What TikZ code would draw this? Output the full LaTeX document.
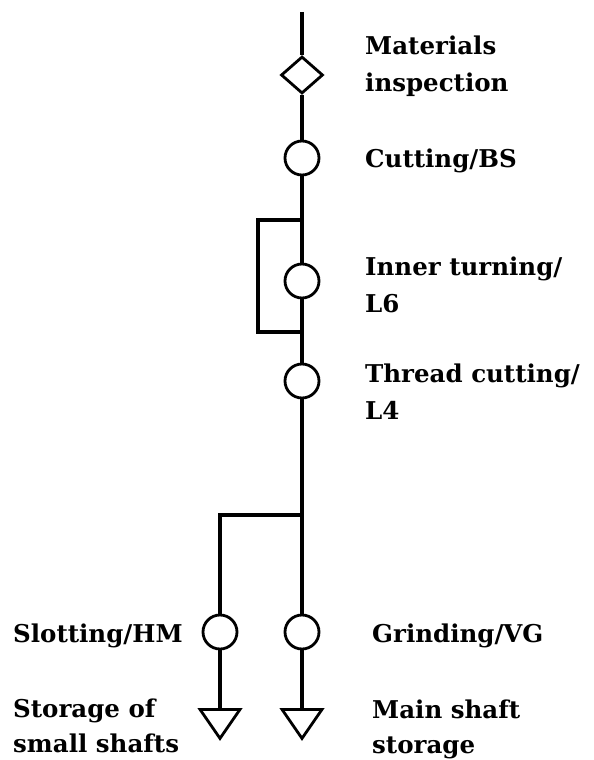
\documentclass[tikz,border=0pt]{standalone}
\usepackage{fontspec}
\setmainfont{DejaVu Serif}
\usetikzlibrary{shapes.geometric}
\begin{document}
\begin{tikzpicture}[x=1pt,y=-1pt,
  flow/.style={line width=3.8pt},
  opnode/.style={circle,draw,line width=2.8pt,minimum size=34pt,inner sep=0pt},
  inspnode/.style={diamond,draw,line width=2.8pt,minimum width=42pt,minimum height=37pt,inner sep=0pt},
  storenode/.style={isosceles triangle,isosceles triangle stretches,shape border rotate=-90,draw,line width=2.8pt,minimum height=29pt,minimum width=40pt,inner sep=0pt,anchor=north},
  lbl/.style={font=\bfseries\fontsize{24.5}{37}\selectfont,align=left,inner sep=0pt,anchor=base west},
  lbll/.style={lbl,font=\bfseries\fontsize{24.5}{35}\selectfont}]
\useasboundingbox (0,0) rectangle (594,760);
\coordinate (top) at (302,12);
\node[inspnode] (insp) at (302,75) {};
\node[opnode] (cut) at (302,158) {};
\coordinate (lt) at (302,220);
\coordinate (ltl) at (258,220);
\node[opnode] (inner) at (302,281) {};
\coordinate (lb) at (302,332);
\coordinate (lbl) at (258,332);
\node[opnode] (thread) at (302,381) {};
\coordinate (br) at (302,515);
\coordinate (brl) at (220,515);
\node[opnode] (slot) at (220,632) {};
\node[opnode] (grind) at (302,632) {};
\node[storenode] (small) at (220,708) {};
\node[storenode] (main) at (302,708) {};
\draw[flow] (top) -- (insp.north);
\draw[flow] (insp.south) -- (cut.north);
\draw[flow] (cut.south) -- (inner.north);
\draw[flow] (inner.south) -- (thread.north);
\draw[flow] (lt) -- (ltl) -- (lbl) -- (lb);
\draw[flow] (thread.south) -- (grind.north);
\draw[flow] (br) -- (brl) -- (slot.north);
\draw[flow] (slot.south) -- (small.north);
\draw[flow] (grind.south) -- (main.north);
\node[lbl] (t1) at (365,92) {Materials\\inspection};
\node[lbl] (t2) at (365,167) {Cutting/BS};
\node[lbl] (t3) at (365,312) {Inner turning/\\L6};
\node[lbl] (t4) at (365,419) {Thread cutting/\\L4};
\node[lbl] (t5) at (13,642) {Slotting/HM};
\node[lbl] (t6) at (372,642) {Grinding/VG};
\node[lbll] (t7) at (13,752) {Storage of\\small shafts};
\node[lbll] (t8) at (372,753) {Main shaft\\storage};
\end{tikzpicture}
\end{document}
